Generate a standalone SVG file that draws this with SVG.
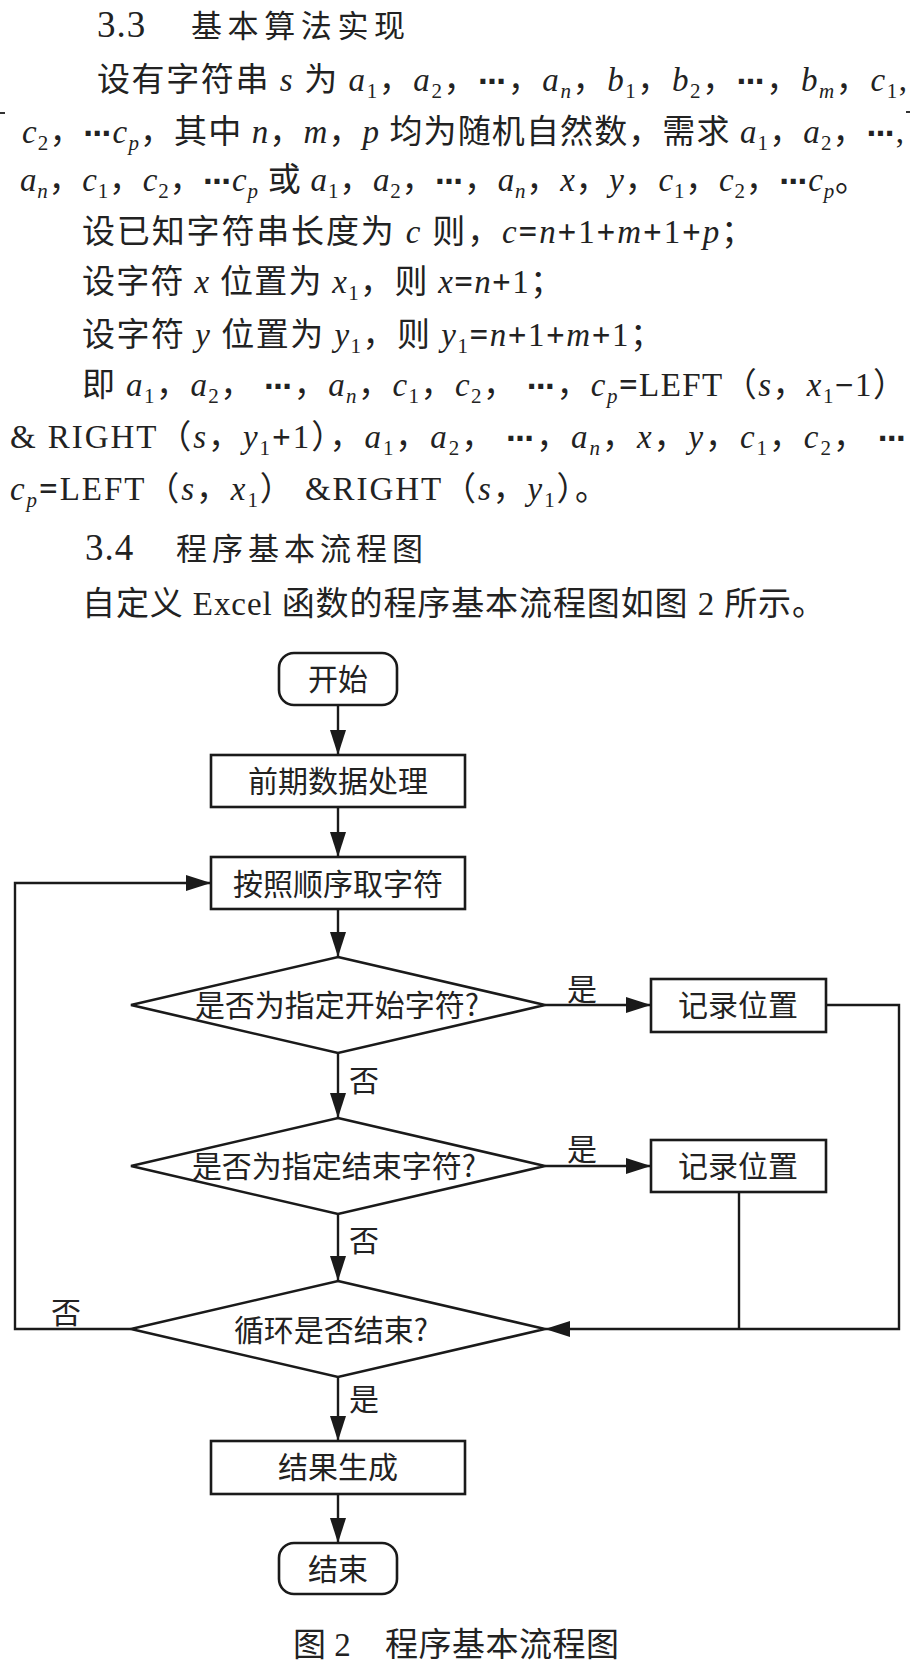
<svg xmlns="http://www.w3.org/2000/svg" width="920" height="1665" viewBox="0 0 920 1665">
<style>
.t{font-family:'Liberation Serif','Noto Sans CJK SC',serif;font-size:33px;fill:#222}
.h{font-family:'Liberation Serif','Noto Sans CJK SC',serif;font-size:31px;fill:#222}
.hn{font-family:'Liberation Serif',serif;font-size:37px;letter-spacing:1px;fill:#222}
.i{font-style:italic}
.s{font-size:21px}
.o{font-weight:bold}
.e{font-family:'DejaVu Sans',sans-serif;font-weight:bold;font-size:28px}
.c{font-family:'Noto Sans CJK SC','Liberation Sans',sans-serif;font-size:30px;fill:#222;text-anchor:middle}
.box{fill:#fff;stroke:#1a1a1a;stroke-width:2.6}
.ln{fill:none;stroke:#1a1a1a;stroke-width:2.4}
</style>
<defs>
<marker id="ah" markerWidth="25" markerHeight="16" refX="25" refY="8" orient="auto" markerUnits="userSpaceOnUse">
<path d="M0,0 L25,8 L0,16 z" fill="#1a1a1a"/>
</marker>
</defs>
<rect width="920" height="1665" fill="#fff"/>

<g id="body-text">
<text class="hn" x="97" y="37">3.3</text>
<text class="h" x="191" y="37" textLength="214" lengthAdjust="spacing">基本算法实现</text>

<text class="t" x="97" y="91" textLength="810" lengthAdjust="spacing">设有字符串 <tspan class="i">s</tspan> 为 <tspan class="i">a</tspan><tspan class="s" dy="7">1</tspan><tspan dy="-7">，</tspan><tspan class="i">a</tspan><tspan class="s" dy="7">2</tspan><tspan dy="-7">，</tspan><tspan class="e">⋯</tspan>，<tspan class="i">a</tspan><tspan class="s i" dy="7">n</tspan><tspan dy="-7">，</tspan><tspan class="i">b</tspan><tspan class="s" dy="7">1</tspan><tspan dy="-7">，</tspan><tspan class="i">b</tspan><tspan class="s" dy="7">2</tspan><tspan dy="-7">，</tspan><tspan class="e">⋯</tspan>，<tspan class="i">b</tspan><tspan class="s i" dy="7">m</tspan><tspan dy="-7">，</tspan><tspan class="i">c</tspan><tspan class="s" dy="7">1</tspan><tspan dy="-7">,</tspan></text>

<text class="t" x="22" y="143" textLength="882" lengthAdjust="spacing"><tspan class="i">c</tspan><tspan class="s" dy="7">2</tspan><tspan dy="-7">，</tspan><tspan class="e">⋯</tspan><tspan class="i">c</tspan><tspan class="s i" dy="7">p</tspan><tspan dy="-7">，其中 </tspan><tspan class="i">n</tspan>，<tspan class="i">m</tspan>，<tspan class="i">p</tspan> 均为随机自然数，需求 <tspan class="i">a</tspan><tspan class="s" dy="7">1</tspan><tspan dy="-7">，</tspan><tspan class="i">a</tspan><tspan class="s" dy="7">2</tspan><tspan dy="-7">，</tspan><tspan class="e">⋯</tspan>,</text>

<text class="t" x="20" y="191" textLength="848" lengthAdjust="spacing"><tspan class="i">a</tspan><tspan class="s i" dy="7">n</tspan><tspan dy="-7">，</tspan><tspan class="i">c</tspan><tspan class="s" dy="7">1</tspan><tspan dy="-7">，</tspan><tspan class="i">c</tspan><tspan class="s" dy="7">2</tspan><tspan dy="-7">，</tspan><tspan class="e">⋯</tspan><tspan class="i">c</tspan><tspan class="s i" dy="7">p</tspan><tspan dy="-7"> 或 </tspan><tspan class="i">a</tspan><tspan class="s" dy="7">1</tspan><tspan dy="-7">，</tspan><tspan class="i">a</tspan><tspan class="s" dy="7">2</tspan><tspan dy="-7">，</tspan><tspan class="e">⋯</tspan>，<tspan class="i">a</tspan><tspan class="s i" dy="7">n</tspan><tspan dy="-7">，</tspan><tspan class="i">x</tspan>，<tspan class="i">y</tspan>，<tspan class="i">c</tspan><tspan class="s" dy="7">1</tspan><tspan dy="-7">，</tspan><tspan class="i">c</tspan><tspan class="s" dy="7">2</tspan><tspan dy="-7">，</tspan><tspan class="e">⋯</tspan><tspan class="i">c</tspan><tspan class="s i" dy="7">p</tspan><tspan dy="-7">。</tspan></text>

<text class="t" x="82" y="243" textLength="672" lengthAdjust="spacing">设已知字符串长度为 <tspan class="i">c</tspan> 则，<tspan class="i">c</tspan><tspan class="o">=</tspan><tspan class="i">n</tspan><tspan class="o">+</tspan>1<tspan class="o">+</tspan><tspan class="i">m</tspan><tspan class="o">+</tspan>1<tspan class="o">+</tspan><tspan class="i">p</tspan>；</text>

<text class="t" x="82" y="293" textLength="481" lengthAdjust="spacing">设字符 <tspan class="i">x</tspan> 位置为 <tspan class="i">x</tspan><tspan class="s" dy="7">1</tspan><tspan dy="-7">，则 </tspan><tspan class="i">x</tspan><tspan class="o">=</tspan><tspan class="i">n</tspan><tspan class="o">+</tspan>1；</text>

<text class="t" x="82" y="346" textLength="581" lengthAdjust="spacing">设字符 <tspan class="i">y</tspan> 位置为 <tspan class="i">y</tspan><tspan class="s" dy="7">1</tspan><tspan dy="-7">，则 </tspan><tspan class="i">y</tspan><tspan class="s" dy="7">1</tspan><tspan class="o" dy="-7">=</tspan><tspan class="i">n</tspan><tspan class="o">+</tspan>1<tspan class="o">+</tspan><tspan class="i">m</tspan><tspan class="o">+</tspan>1；</text>

<text class="t" x="82" y="396" textLength="824" lengthAdjust="spacing">即 <tspan class="i">a</tspan><tspan class="s" dy="7">1</tspan><tspan dy="-7">，</tspan><tspan class="i">a</tspan><tspan class="s" dy="7">2</tspan><tspan dy="-7">， </tspan><tspan class="e">⋯</tspan>，<tspan class="i">a</tspan><tspan class="s i" dy="7">n</tspan><tspan dy="-7">，</tspan><tspan class="i">c</tspan><tspan class="s" dy="7">1</tspan><tspan dy="-7">，</tspan><tspan class="i">c</tspan><tspan class="s" dy="7">2</tspan><tspan dy="-7">， </tspan><tspan class="e">⋯</tspan>，<tspan class="i">c</tspan><tspan class="s i" dy="7">p</tspan><tspan class="o" dy="-7">=</tspan>LEFT（<tspan class="i">s</tspan>，<tspan class="i">x</tspan><tspan class="s" dy="7">1</tspan><tspan class="o" dy="-7">−</tspan>1）</text>

<text class="t" x="10" y="448" textLength="896" lengthAdjust="spacing">&amp; RIGHT（<tspan class="i">s</tspan>，<tspan class="i">y</tspan><tspan class="s" dy="7">1</tspan><tspan class="o" dy="-7">+</tspan>1），<tspan class="i">a</tspan><tspan class="s" dy="7">1</tspan><tspan dy="-7">，</tspan><tspan class="i">a</tspan><tspan class="s" dy="7">2</tspan><tspan dy="-7">， </tspan><tspan class="e">⋯</tspan>，<tspan class="i">a</tspan><tspan class="s i" dy="7">n</tspan><tspan dy="-7">，</tspan><tspan class="i">x</tspan>，<tspan class="i">y</tspan>，<tspan class="i">c</tspan><tspan class="s" dy="7">1</tspan><tspan dy="-7">，</tspan><tspan class="i">c</tspan><tspan class="s" dy="7">2</tspan><tspan dy="-7">， </tspan><tspan class="e">⋯</tspan></text>

<text class="t" x="10" y="500" textLength="598" lengthAdjust="spacing"><tspan class="i">c</tspan><tspan class="s i" dy="7">p</tspan><tspan class="o" dy="-7">=</tspan>LEFT（<tspan class="i">s</tspan>，<tspan class="i">x</tspan><tspan class="s" dy="7">1</tspan><tspan dy="-7">） &amp;RIGHT（</tspan><tspan class="i">s</tspan>，<tspan class="i">y</tspan><tspan class="s" dy="7">1</tspan><tspan dy="-7">）。</tspan></text>

<text class="hn" x="85" y="560">3.4</text>
<text class="h" x="176" y="560" textLength="247" lengthAdjust="spacing">程序基本流程图</text>

<text class="t" x="82" y="615" textLength="743" lengthAdjust="spacing">自定义 Excel 函数的程序基本流程图如图 2 所示。</text>

<rect x="0" y="112" width="5" height="2" fill="#333"/>
<rect x="906" y="111" width="4" height="2" fill="#333"/>
</g>

<g id="connectors">
<line class="ln" x1="338" y1="705" x2="338" y2="755" marker-end="url(#ah)"/>
<line class="ln" x1="338" y1="807" x2="338" y2="857" marker-end="url(#ah)"/>
<line class="ln" x1="338" y1="909" x2="338" y2="957" marker-end="url(#ah)"/>
<line class="ln" x1="545" y1="1005" x2="651" y2="1005" marker-end="url(#ah)"/>
<line class="ln" x1="338" y1="1053" x2="338" y2="1118" marker-end="url(#ah)"/>
<line class="ln" x1="545" y1="1166" x2="651" y2="1166" marker-end="url(#ah)"/>
<line class="ln" x1="338" y1="1214" x2="338" y2="1281" marker-end="url(#ah)"/>
<polyline class="ln" points="826,1005 899,1005 899,1329 545,1329" marker-end="url(#ah)"/>
<line class="ln" x1="739" y1="1192" x2="739" y2="1329"/>
<polyline class="ln" points="131,1329 15,1329 15,883 211,883" marker-end="url(#ah)"/>
<line class="ln" x1="338" y1="1377" x2="338" y2="1441" marker-end="url(#ah)"/>
<line class="ln" x1="338" y1="1494" x2="338" y2="1543" marker-end="url(#ah)"/>
<text class="c" x="582" y="1000">是</text>
<text class="c" x="364" y="1091">否</text>
<text class="c" x="582" y="1160">是</text>
<text class="c" x="364" y="1251">否</text>
<text class="c" x="66" y="1323">否</text>
<text class="c" x="364" y="1410">是</text>
</g>

<g id="start">
<rect class="box" x="279" y="653" width="118" height="52" rx="15"/>
<text class="c" x="338" y="690">开始</text>
</g>
<g id="preprocess">
<rect class="box" x="211" y="755" width="254" height="52"/>
<text class="c" x="338" y="792">前期数据处理</text>
</g>
<g id="fetch">
<rect class="box" x="211" y="857" width="254" height="52"/>
<text class="c" x="338" y="895">按照顺序取字符</text>
</g>
<g id="decision-start">
<polygon class="box" points="338,957 545,1005 338,1053 131,1005"/>
<text class="c" x="337" y="1016">是否为指定开始字符?</text>
</g>
<g id="record1">
<rect class="box" x="651" y="979" width="175" height="53"/>
<text class="c" x="738" y="1016">记录位置</text>
</g>
<g id="decision-end">
<polygon class="box" points="338,1118 545,1166 338,1214 131,1166"/>
<text class="c" x="334" y="1177">是否为指定结束字符?</text>
</g>
<g id="record2">
<rect class="box" x="651" y="1140" width="175" height="52"/>
<text class="c" x="738" y="1177">记录位置</text>
</g>
<g id="decision-loop">
<polygon class="box" points="338,1281 545,1329 338,1377 131,1329"/>
<text class="c" x="331" y="1341">循环是否结束?</text>
</g>
<g id="result">
<rect class="box" x="211" y="1441" width="254" height="53"/>
<text class="c" x="338" y="1478">结果生成</text>
</g>
<g id="end">
<rect class="box" x="279" y="1543" width="118" height="51" rx="15"/>
<text class="c" x="338" y="1580">结束</text>
</g>

<g id="caption">
<text class="t" x="293" y="1656">图 2</text>
<text class="t" x="385" y="1656" textLength="234" lengthAdjust="spacing">程序基本流程图</text>
</g>
</svg>
